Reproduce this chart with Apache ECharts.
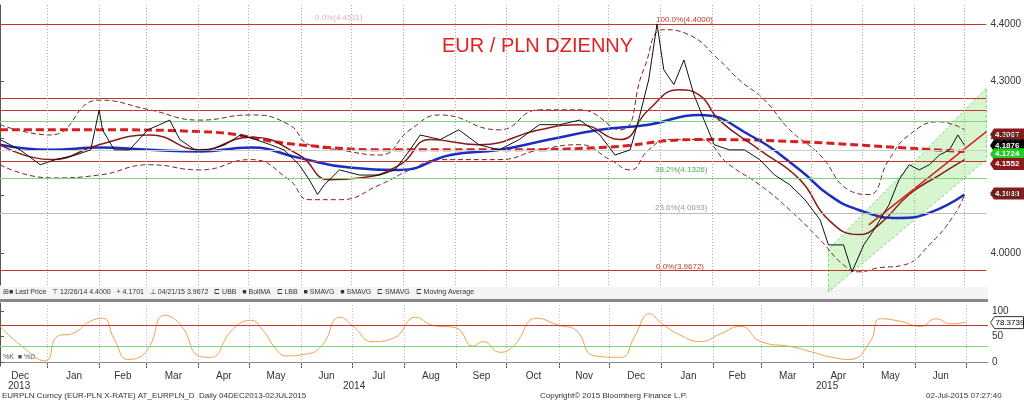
<!DOCTYPE html><html><head><meta charset="utf-8"><script src="https://cdn.jsdelivr.net/npm/echarts@6/dist/echarts.min.js"></script>
<style>html,body{margin:0;background:#fff}#c{width:1024px;height:401px}</style></head><body><div id="c"></div><script>
// days since 2013-12-04
const priceDays=[0,12,24,33,45,54,59,61,68,77,88,95,101,107,116,125,134,143,152,161,169,178,184,189,193,202,214,226,235,244,250,262,273,285,297,309,321,333,345,357,366,375,380,386,391,395,401,407,413,419,425,434,443,452,461,470,479,488,493,502,507,514,520,529,535,541,547,553,559,565,570,574];
const priceVals=[4.198,4.180,4.154,4.163,4.171,4.180,4.250,4.215,4.180,4.180,4.215,4.224,4.232,4.198,4.180,4.180,4.189,4.206,4.198,4.189,4.180,4.154,4.128,4.102,4.119,4.145,4.136,4.136,4.145,4.180,4.206,4.198,4.215,4.189,4.180,4.198,4.224,4.224,4.232,4.206,4.171,4.180,4.232,4.302,4.400,4.320,4.294,4.337,4.276,4.232,4.189,4.180,4.180,4.163,4.136,4.119,4.093,4.058,4.014,4.014,3.967,4.014,4.040,4.084,4.128,4.154,4.145,4.154,4.171,4.180,4.206,4.188];
const smaDays=[0,30,59,89,119,149,178,208,238,268,297,327,357,386,416,446,476,493,511,535,553,574];
const smaVals=[4.189,4.180,4.184,4.180,4.177,4.184,4.166,4.149,4.145,4.171,4.180,4.198,4.215,4.224,4.241,4.206,4.145,4.102,4.075,4.061,4.070,4.102];
const ma200Days=[0,59,119,178,238,297,357,416,476,535,574];
const ma200Vals=[4.215,4.215,4.212,4.189,4.180,4.180,4.184,4.198,4.194,4.184,4.177];
const bollDays=[0,30,59,89,119,149,178,196,214,238,256,285,321,345,369,386,404,416,428,452,476,493,511,523,541,559,574];
const bollVals=[4.189,4.163,4.189,4.206,4.180,4.202,4.171,4.128,4.131,4.154,4.198,4.189,4.215,4.224,4.198,4.250,4.285,4.276,4.232,4.180,4.128,4.058,4.032,4.049,4.102,4.136,4.163];
const upDays=[0,30,59,89,119,149,172,184,202,226,244,262,297,321,345,369,383,395,410,428,440,455,470,488,505,517,529,541,559,574];
const upVals=[4.224,4.206,4.267,4.250,4.232,4.241,4.224,4.189,4.180,4.171,4.215,4.241,4.215,4.250,4.250,4.215,4.320,4.390,4.381,4.337,4.302,4.267,4.215,4.171,4.110,4.102,4.163,4.206,4.229,4.215];
const loDays=[0,30,59,89,119,149,172,184,202,226,244,262,297,321,345,363,375,386,398,416,434,452,470,488,502,511,523,538,553,568,574];
const loVals=[4.154,4.131,4.136,4.154,4.145,4.163,4.128,4.093,4.093,4.119,4.145,4.163,4.163,4.180,4.189,4.163,4.145,4.180,4.198,4.198,4.154,4.119,4.075,4.023,3.979,3.967,3.974,3.979,4.014,4.067,4.102];
const channelDays=[493,493,587,587];
const channelVals=[3.932,4.006,4.288,4.163];
const trendDays=[517,587];
const trendVals=[4.049,4.212];
const stochDays=[0,13,27,34,44,53,61,68,76,87,98,108,118,125,138,149,156,165,170,181,191,202,210,221,234,247,257,271,281,287,297,305,319,332,342,353,369,377,386,393,404,416,428,440,452,470,482,493,505,517,523,535,547,556,565,574];
const stochVals=[70,31,2,50,57,79,86,44,5,21,92,70,12,9,63,82,63,21,12,15,31,88,70,40,47,88,72,67,31,40,19,31,86,72,63,12,9,50,95,76,53,40,55,70,40,30,20,10,5,40,85,80,70,85,75,78];
const fibLevels=[4.40,4.2683,4.2549,4.2329,4.1836,4.1552,4.1326,4.0693,3.9672];
const fibColors=['#c0392b','#c0392b','#c0392b','#7bd67b','#cfcfcf','#c0392b','#7bd67b','#bbbbbb','#c0392b'];
const monthStarts=[28,59,87,118,148,179,209,240,271,301,332,362,393,424,452,483,513,544,574];
const monthLabels=['Dec','Jan','Feb','Mar','Apr','May','Jun','Jul','Aug','Sep','Oct','Nov','Dec','Jan','Feb','Mar','Apr','May','Jun'];
const monthMids=[12,44,73,103,133,164,194,225,256,286,317,347,378,409,438,468,498,529,559];
const priceTicks=[4.0,4.1,4.2,4.3,4.4];
const stochTicks=[0,50,100];
const rightTags=[[4.2067,'#8b1a1a','#fff'],[4.1876,'#000','#fff'],[4.1724,'#22cc22','#fff'],[4.1552,'#8b1a1a','#fff'],[4.1038,'#8b1a1a','#fff']];

const z=(d,v)=>d.map((x,i)=>[x,v[i]]);
const chart=echarts.init(document.getElementById('c'));
const vlines=(c)=>({silent:true,symbol:'none',label:{show:false},data:monthStarts.map(d=>({xAxis:d,lineStyle:{color:c,type:[1,2],width:1}}))});
const opt={animation:false,
 grid:[{left:0,right:36,top:5,height:280},{left:0,right:36,top:303,height:63}],
 xAxis:[{type:'value',gridIndex:0,min:0,max:587,show:false,splitLine:{show:false}},
  {type:'value',gridIndex:1,min:0,max:587,axisLine:{show:true,lineStyle:{color:'#888'}},
   axisTick:{show:true,customValues:monthStarts,length:6,lineStyle:{color:'#555'}},
   axisLabel:{show:true,customValues:monthMids,formatter:v=>monthLabels[monthMids.indexOf(v)],fontSize:10,color:'#333',fontFamily:'Liberation Sans',margin:5},
   splitLine:{show:false}}],
 yAxis:[{type:'value',gridIndex:0,position:'right',min:3.944,max:4.433,
   axisLine:{show:true,lineStyle:{color:'#555'}},axisTick:{show:true,customValues:priceTicks,length:4},
   axisLabel:{customValues:priceTicks,formatter:v=>v.toFixed(4),fontSize:10,color:'#333',fontFamily:'Liberation Sans',margin:4},
   splitLine:{show:false}},
  {type:'value',gridIndex:1,position:'right',min:-8,max:116,
   axisLine:{show:true,lineStyle:{color:'#555'}},axisTick:{show:true,customValues:stochTicks,length:4},
   axisLabel:{customValues:stochTicks,fontSize:10,color:'#333',fontFamily:'Liberation Sans',margin:4},splitLine:{show:false}}],
 series:[
  {type:'custom',xAxisIndex:0,yAxisIndex:0,silent:true,z:1,data:[0],renderItem:(p,api)=>({type:'polygon',
    shape:{points:channelDays.map((d,i)=>api.coord([d,channelVals[i]]))},style:{fill:'rgba(140,230,120,0.35)',stroke:'#66cc66',lineWidth:0.8,lineDash:[3,2]}})},
  {type:'line',data:z(priceDays,priceVals),symbol:'none',lineStyle:{color:'#111',width:1},z:5,
   markLine:{silent:true,symbol:'none',label:{show:false},data:fibLevels.map((v,i)=>({yAxis:v,lineStyle:{color:fibColors[i],width:1,type:'solid'}})).concat(vlines('#aaa').data)}},
  {type:'line',data:z(ma200Days,ma200Vals),smooth:true,symbol:'none',lineStyle:{color:'#d62020',width:3,type:[8,4]},z:4},
  {type:'line',data:z(smaDays,smaVals),smooth:true,symbol:'none',lineStyle:{color:'#1a2fc0',width:2.5},z:4},
  {type:'line',data:z(bollDays,bollVals),smooth:true,symbol:'none',lineStyle:{color:'#8b1a1a',width:1.5},z:4},
  {type:'line',data:z(upDays,upVals),smooth:true,symbol:'none',lineStyle:{color:'#7a2020',width:1,type:[5,3]},z:3},
  {type:'line',data:z(loDays,loVals),smooth:true,symbol:'none',lineStyle:{color:'#7a2020',width:1,type:[5,3]},z:3},
  {type:'line',data:z(trendDays,trendVals),symbol:'none',lineStyle:{color:'#d62020',width:1.5},z:4},
  {type:'line',xAxisIndex:1,yAxisIndex:1,data:z(stochDays,stochVals),smooth:true,symbol:'none',lineStyle:{color:'#f0a050',width:1},
   markLine:{silent:true,symbol:'none',label:{show:false},data:[{yAxis:72,lineStyle:{color:'#c0392b',type:'solid'}},{yAxis:30,lineStyle:{color:'#7bd67b',type:'solid'}}].concat(vlines('#bbb').data)}}
 ],
 graphic:[
  {type:'text',left:442,top:36,style:{text:'EUR / PLN DZIENNY',fill:'#e02020',font:'20px "Liberation Sans"'}},
  {type:'rect',left:0,top:287,shape:{width:988,height:12},style:{fill:'#f4f4f4'}},
  {type:'text',left:3,top:289,style:{text:'⊞■ Last Price   ⊤ 12/26/14 4.4000   + 4.1701   ⊥ 04/21/15 3.9672   ⊏ UBB   ■ BollMA   ⊏ LBB   ■ SMAVG   ■ SMAVG   ⊏ SMAVG   ⊏ Moving Average',fill:'#333',font:'7px "Liberation Sans"'}},
  {type:'rect',left:0,top:299,shape:{width:988,height:3},style:{fill:'#888'}},
  {type:'text',left:3,top:354,style:{text:'%K  ■ %D',fill:'#555',font:'7px "Liberation Sans"'}},
  {type:'text',left:8,top:381,style:{text:'2013',fill:'#333',font:'10px "Liberation Sans"'}},
  {type:'text',left:343,top:381,style:{text:'2014',fill:'#333',font:'10px "Liberation Sans"'}},
  {type:'text',left:816,top:381,style:{text:'2015',fill:'#333',font:'10px "Liberation Sans"'}},
  {type:'text',left:2,top:392,style:{text:'EURPLN Curncy (EUR-PLN X-RATE) AT_EURPLN_D  Daily 04DEC2013-02JUL2015',fill:'#333',font:'8px "Liberation Sans"'}},
  {type:'text',left:540,top:392,style:{text:'Copyright© 2015 Bloomberg Finance L.P.',fill:'#333',font:'8px "Liberation Sans"'}},
  {type:'text',left:926,top:392,style:{text:'02-Jul-2015 07:27:40',fill:'#333',font:'8px "Liberation Sans"'}},
  {type:'text',left:315,top:14,style:{text:'0.0%(4.4511)',fill:'#e8b0b0',font:'8px "Liberation Sans"'}},
  {type:'text',left:656,top:16,style:{text:'100.0%(4.4000)',fill:'#c0392b',font:'8px "Liberation Sans"'}},
  {type:'text',left:655,top:166,style:{text:'38.2%(4.1326)',fill:'#4caf50',font:'8px "Liberation Sans"'}},
  {type:'text',left:655,top:204,style:{text:'23.6%(4.0693)',fill:'#999',font:'8px "Liberation Sans"'}},
  {type:'text',left:656,top:263,style:{text:'0.0%(3.9672)',fill:'#c0392b',font:'8px "Liberation Sans"'}}
 ]};
chart.setOption(opt);
const tags=rightTags.map(t=>{const y=chart.convertToPixel({yAxisIndex:0},t[0]);return {type:'group',left:990,top:y-6,children:[
 {type:'polygon',shape:{points:[[0,6],[4,0],[34,0],[34,12],[4,12]]},style:{fill:t[1]}},
 {type:'text',left:5,top:2,style:{text:t[0].toFixed(4),fill:t[2],font:'bold 8px "Liberation Sans"'}}]};});
const ys=chart.convertToPixel({yAxisIndex:1},78.37);
tags.push({type:'group',left:990,top:ys-6,children:[{type:'polygon',shape:{points:[[0,6],[4,0],[33,0],[33,12],[4,12]]},style:{fill:'#fff',stroke:'#333'}},
 {type:'text',left:5,top:2,style:{text:'78.3739',fill:'#000',font:'8px "Liberation Sans"'}}]});
chart.setOption({graphic:opt.graphic.concat(tags)});
</script></body></html>
